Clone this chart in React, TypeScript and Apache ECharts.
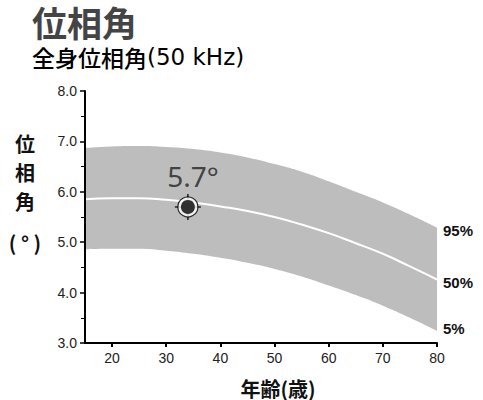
import { useEffect, useRef } from 'react'
import * as echarts from 'echarts'

const ages = [15, 20, 25, 30, 35, 40, 45, 50, 55, 60, 65, 70, 75, 80]
const p95 = [6.87, 6.9, 6.91, 6.89, 6.85, 6.78, 6.68, 6.55, 6.4, 6.21, 6.0, 5.79, 5.55, 5.29]
const p50 = [5.85, 5.87, 5.87, 5.84, 5.79, 5.71, 5.62, 5.5, 5.35, 5.18, 4.98, 4.77, 4.52, 4.26]
const p5 = [4.86, 4.87, 4.87, 4.83, 4.77, 4.69, 4.59, 4.47, 4.32, 4.14, 3.95, 3.74, 3.5, 3.24]
const xTicks = [20, 30, 40, 50, 60, 70, 80]
const patient = [34, 5.7]

const CJK = '"Noto Sans CJK JP", "Noto Sans", sans-serif'
const LATIN = '"Liberation Sans", Arial, sans-serif'

export default function App() {
  const ref = useRef<HTMLDivElement>(null)

  useEffect(() => {
    if (!ref.current) return
    const chart = echarts.init(ref.current, null, { renderer: 'svg' })

    const endLabel = (text: string, dy: number) => ({
      show: true,
      formatter: text,
      distance: 6,
      offset: [0, dy],
      color: '#111',
      fontSize: 15,
      fontWeight: 'bold',
      fontFamily: LATIN,
    })

    const boldText = (text: string, x: number, y: number) => ({
      type: 'text',
      x,
      y,
      style: {
        text,
        font: `bold 20px ${CJK}`,
        lineHeight: 20,
        fill: '#111',
        align: 'center',
        verticalAlign: 'middle',
      },
    })

    chart.setOption({
      animation: false,
      backgroundColor: '#fff',
      grid: { left: 85, right: 46, top: 91, bottom: 57, outerBoundsMode: 'none' },
      graphic: [
        {
          type: 'text',
          x: 32,
          y: 21,
          style: {
            text: '位相角',
            font: `bold 35px ${CJK}`,
            lineHeight: 35,
            fill: '#444',
            verticalAlign: 'middle',
          },
        },
        {
          type: 'text',
          x: 32,
          y: 57,
          style: {
            text: '{a|全身位相角}{b|(50 kHz)}',
            verticalAlign: 'middle',
            rich: {
              a: { fontFamily: CJK, fontSize: 23, fontWeight: 500, color: '#222', lineHeight: 23 },
              b: { fontFamily: '"DejaVu Sans", sans-serif', fontSize: 23, color: '#222', lineHeight: 23 },
            },
          },
        },
        boldText('位', 25, 143),
        boldText('相', 25, 172),
        boldText('角', 25, 201),
        boldText('( ° )', 25, 242),
        boldText('年齢(歳)', 278, 388),
      ],
      xAxis: {
        type: 'value',
        min: 15,
        max: 80,
        z: 10,
        axisLine: { lineStyle: { color: '#000', width: 2 } },
        axisTick: { customValues: xTicks, length: 4, lineStyle: { color: '#000', width: 2 } },
        axisLabel: {
          customValues: xTicks,
          fontFamily: LATIN,
          fontSize: 14,
          color: '#222',
          margin: 8,
        },
        splitLine: { show: false },
      },
      yAxis: {
        type: 'value',
        min: 3,
        max: 8,
        interval: 1,
        z: 10,
        axisLine: { show: true, lineStyle: { color: '#000', width: 2 } },
        axisTick: { show: true, length: 5, lineStyle: { color: '#000', width: 1.5 } },
        minorTick: { show: true, splitNumber: 2, length: 4, lineStyle: { color: '#000', width: 1 } },
        axisLabel: {
          formatter: (v: number) => v.toFixed(1),
          fontFamily: LATIN,
          fontSize: 14,
          color: '#222',
          margin: 8,
        },
        splitLine: { show: false },
      },
      series: [
        {
          type: 'line',
          name: '95%',
          smooth: true,
          symbol: 'none',
          silent: true,
          lineStyle: { width: 0, opacity: 0 },
          areaStyle: { color: '#bdbdbd', opacity: 1, origin: 'start' },
          data: ages.map((a, i) => [a, p95[i]]),
          endLabel: endLabel('95%', 3),
          z: 2,
        },
        {
          type: 'line',
          name: '5%',
          smooth: true,
          symbol: 'none',
          silent: true,
          lineStyle: { width: 0, opacity: 0 },
          areaStyle: { color: '#fff', opacity: 1, origin: 'start' },
          data: ages.map((a, i) => [a, p5[i]]),
          endLabel: endLabel('5%', -2),
          z: 3,
        },
        {
          type: 'line',
          name: '50%',
          smooth: true,
          symbol: 'none',
          silent: true,
          lineStyle: { color: '#fff', width: 2 },
          data: ages.map((a, i) => [a, p50[i]]),
          endLabel: endLabel('50%', 3),
          z: 4,
        },
        {
          type: 'scatter',
          symbol: 'path://M9.4 0h1.2v4.5h-1.2zM9.4 15.5h1.2v4.5h-1.2zM0 9.4h4.5v1.2h-4.5zM15.5 9.4h4.5v1.2h-4.5z',
          symbolSize: 26,
          itemStyle: { color: '#000' },
          data: [patient],
          z: 5,
        },
        {
          type: 'scatter',
          symbol: 'circle',
          symbolSize: 20,
          itemStyle: { color: '#fff', borderColor: '#000', borderWidth: 1.2 },
          label: {
            show: true,
            position: 'top',
            distance: 6,
            formatter: '5.7°',
            fontFamily: '"Noto Sans", sans-serif',
            fontSize: 28,
            color: '#222',
            offset: [5, 0],
          },
          data: [patient],
          z: 6,
        },
        {
          type: 'scatter',
          symbol: 'circle',
          symbolSize: 14,
          itemStyle: { color: '#000' },
          data: [patient],
          z: 7,
        },
      ],
    })

    return () => chart.dispose()
  }, [])

  return (
    <div
      ref={ref}
      style={{ position: 'absolute', left: 0, top: 0, width: 483, height: 400 }}
    />
  )
}
